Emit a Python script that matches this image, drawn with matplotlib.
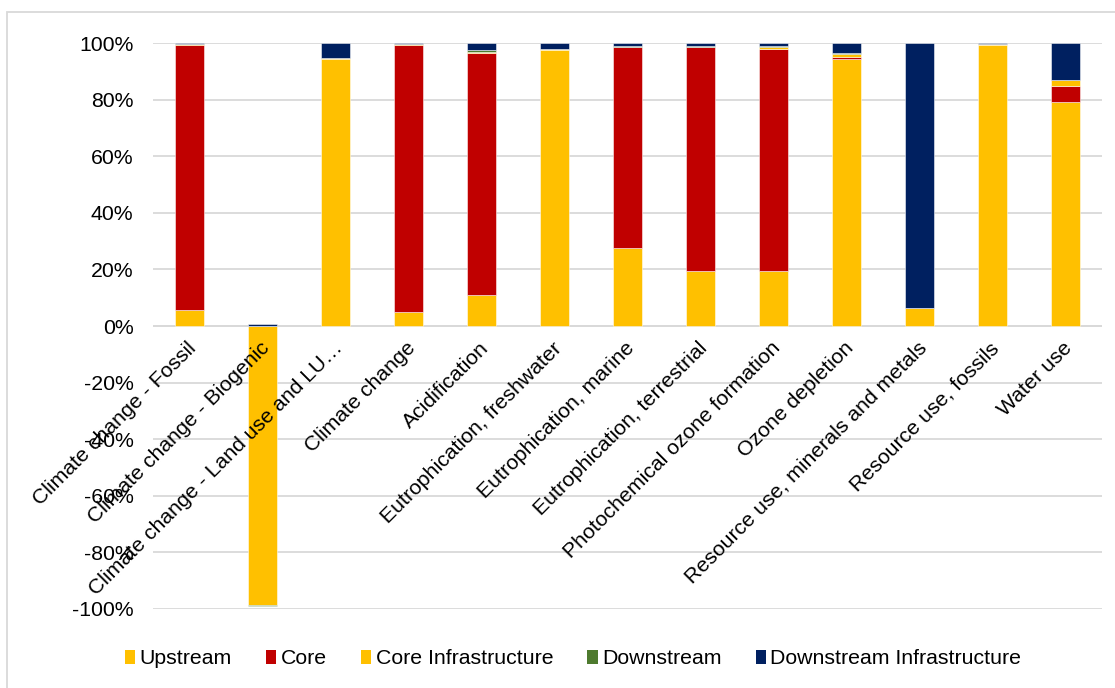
import matplotlib as mpl
mpl.use('Agg')
import matplotlib.pyplot as plt
import numpy as np
from matplotlib.patches import Rectangle, Patch
from matplotlib.ticker import FuncFormatter

mpl.rcParams.update({
    'font.family': ['Liberation Sans', 'DejaVu Sans'],
    'font.size': 15.3,
})

categories = [
    'Climate change - Fossil',
    'Climate change - Biogenic',
    'Climate change - Land use and LU\u2026',
    'Climate change',
    'Acidification',
    'Eutrophication, freshwater',
    'Eutrophication, marine',
    'Eutrophication, terrestrial',
    'Photochemical ozone formation',
    'Ozone depletion',
    'Resource use, minerals and metals',
    'Resource use, fossils',
    'Water use',
]

# shares in percent, per life-cycle stage
upstream = [5.5, -98.6, 94.3, 5.0, 11.0, 97.6, 27.5, 19.6, 19.6, 94.3, 6.2, 99.3, 79.2]
core = [93.8, 0.0, 0.0, 94.3, 85.5, 0.0, 71.0, 78.9, 78.4, 0.9, 0.0, 0.0, 5.6]
core_infra = [0.2, 0.0, 0.3, 0.2, 0.3, 0.3, 0.2, 0.2, 0.5, 1.0, 0.0, 0.2, 2.0]
downstream = [0.1, -0.4, 0.2, 0.1, 0.7, 0.1, 0.4, 0.4, 0.3, 0.1, 0.0, 0.0, 0.2]
downstream_infra = [0.4, 0.8, 5.2, 0.4, 2.5, 2.0, 0.9, 0.9, 1.2, 3.7, 93.8, 0.5, 13.0]

series = [
    ('Upstream', upstream, '#FFC000'),
    ('Core', core, '#C00000'),
    ('Core Infrastructure', core_infra, '#FFC000'),
    ('Downstream', downstream, '#4E7A2E'),
    ('Downstream Infrastructure', downstream_infra, '#002060'),
]

W, H = 1115, 688
fig = plt.figure(figsize=(W / 100, H / 100), dpi=100)
ax = fig.add_axes([153 / W, 1 - 609 / H, (1102 - 153) / W, (609 - 43) / H])

x = np.arange(len(categories))
pos_bottom = np.zeros(len(categories))
neg_bottom = np.zeros(len(categories))
for name, vals, color in series:
    v = np.array(vals) / 100.0
    bottom = np.where(v >= 0, pos_bottom, neg_bottom)
    ax.bar(x, v, bottom=bottom, width=0.4, color=color, edgecolor=(1, 1, 1, 0.6),
           linewidth=0.6, zorder=3)
    pos_bottom += np.where(v >= 0, v, 0)
    neg_bottom += np.where(v < 0, v, 0)

ax.set_xlim(-0.5, len(categories) - 0.5)
ax.set_ylim(-1.0, 1.0)
ax.set_yticks(np.arange(-1.0, 1.01, 0.2))
ax.yaxis.set_major_formatter(FuncFormatter(lambda v, _: f'{int(round(v * 100))}%'))
ax.grid(axis='y', color='#D9D9D9', lw=1.3, zorder=0)
ax.axhline(0, color='#D9D9D9', lw=1.3, zorder=1)
for s in ax.spines.values():
    s.set_visible(False)
ax.tick_params(axis='y', length=0, pad=14, labelsize=15.3)

ax.set_xticks([])
for i, lab in enumerate(categories):
    ax.annotate(lab, xy=(i, 0), xytext=(-2, -9), textcoords='offset points',
                rotation=45, rotation_mode='anchor', ha='right', va='top',
                fontsize=15.3, zorder=5)

handles = [Patch(facecolor=c, edgecolor='none', label=n) for n, _, c in series]
fig.legend(handles=handles, loc='center', bbox_to_anchor=(573 / W, 1 - 659 / H),
           ncol=5, frameon=False, fontsize=15.3, handlelength=0.5, handleheight=0.65,
           handletextpad=0.2, columnspacing=1.6)

# chart area border
fig.patches.append(Rectangle((7 / W, -0.1), 1.2, 1 - 12 / H + 0.1, transform=fig.transFigure,
                             fill=False, edgecolor='#D9D9D9', lw=1.3))

fig.savefig('out.png', dpi=100)
